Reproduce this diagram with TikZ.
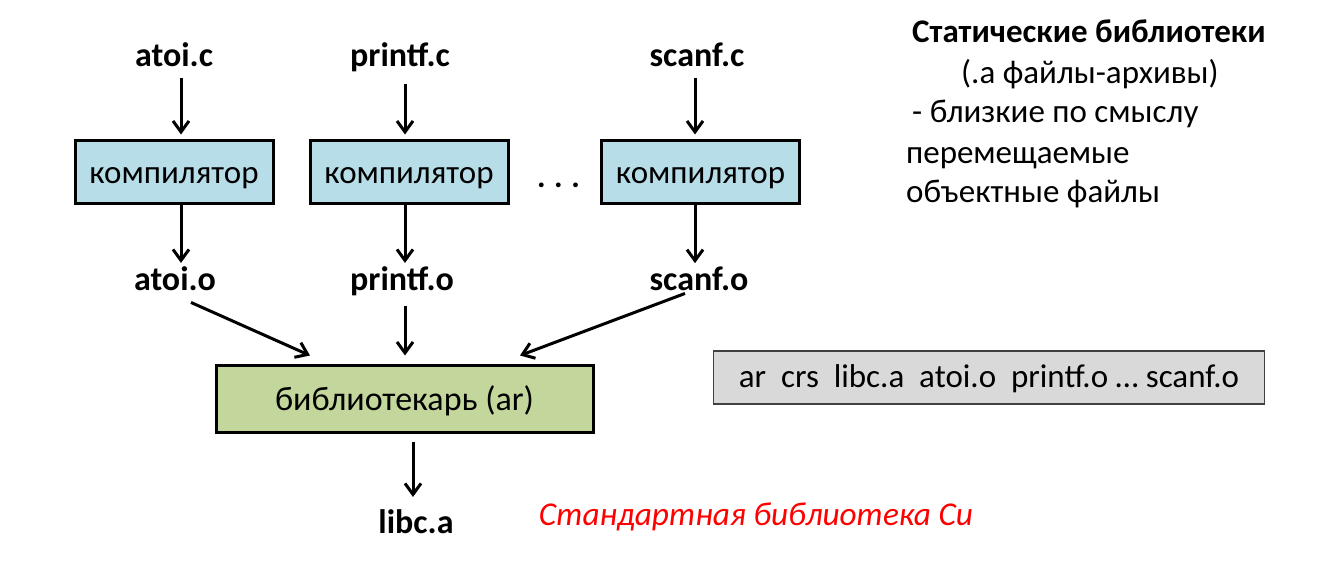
\documentclass[tikz,border=0pt]{standalone}
\usepackage{fontspec}
\setmainfont{Carlito}
\usetikzlibrary{arrows.meta}
\definecolor{boxblue}{HTML}{B7DDE8}
\definecolor{boxgreen}{HTML}{C3D69B}
\definecolor{boxgray}{HTML}{D9D9D9}
\definecolor{boxedge}{HTML}{404040}
\definecolor{txtred}{HTML}{FF0000}
\begin{document}
\begin{tikzpicture}[x=1pt,y=-1pt,
  lbl/.style={font=\fontsize{34}{40}\selectfont\bfseries, inner sep=0pt, anchor=base},
  procbox/.style={draw=black, line width=3pt, inner sep=0pt, text height=24pt, text depth=0pt, font=\fontsize{33}{40}\selectfont},
  comp/.style={procbox, fill=boxblue, minimum width=198pt, minimum height=63pt},
  arr/.style={line width=3pt, -{Straight Barb[length=11pt,width=16pt,line width=3pt]}},
  side/.style={font=\fontsize{33}{39}\selectfont, inner sep=0pt, anchor=base west}
]
\useasboundingbox (0,0) rectangle (1327,573);
% source files
\node[lbl] (atoic) at (174,66) {atoi.c};
\node[lbl] (printfc) at (400,66) {printf.c};
\node[lbl] (scanfc) at (697,66) {scanf.c};
% compilers
\node[comp] (comp1) at (174,171.5) {компилятор};
\node[comp] (comp2) at (409,171.5) {компилятор};
\node[comp] (comp3) at (700.5,171.5) {компилятор};
\node[font=\fontsize{32}{38}\selectfont\bfseries, inner sep=0pt, anchor=base] (dots) at (558.5,187) {.\hspace{8.5pt}.\hspace{8.5pt}.};
% object files
\node[lbl] (atoio) at (175,290) {atoi.o};
\node[lbl] (printfo) at (402,290) {printf.o};
\node[lbl] (scanfo) at (699,290) {scanf.o};
% librarian
\node[procbox, fill=boxgreen, minimum width=377pt, minimum height=67pt, font=\fontsize{34}{40}\selectfont] (lib) at (404.5,398.5) {библиотекарь (ar)};
\node[lbl] (libca) at (416,533) {libc.a};
% arrows: sources -> compilers
\draw[arr, shorten >=4pt] ([xshift=7pt,yshift=-12pt]atoic.south) -- ([xshift=7pt]atoic.south |- comp1.north);
\draw[arr, shorten >=4pt] ([xshift=5pt,yshift=-12pt]printfc.south) -- ([xshift=5pt]printfc.south |- comp2.north);
\draw[arr, shorten >=4pt] ([xshift=-2pt,yshift=-12pt]scanfc.south) -- ([xshift=-2pt]scanfc.south |- comp3.north);
% compilers -> objects
\draw[arr, shorten >=3pt] ([xshift=6pt]atoio.north |- comp1.south) -- ([xshift=6pt]atoio.north);
\draw[arr, shorten >=3pt] ([xshift=3pt]printfo.north |- comp2.south) -- ([xshift=3pt]printfo.north);
\draw[arr, shorten >=3pt] ([xshift=-4pt]scanfo.north |- comp3.south) -- ([xshift=-4pt]scanfo.north);
% objects -> librarian
\draw[arr] ([xshift=16pt,yshift=-12pt]atoio.south) -- ([xshift=-94.5pt,yshift=8pt]lib.north);
\draw[arr] ([xshift=3pt,yshift=-10pt]printfo.south) -- ([xshift=0.5pt,yshift=8pt]lib.north);
\draw[arr] ([xshift=-14pt,yshift=-3pt]scanfo.south) -- ([xshift=115.5pt,yshift=8pt]lib.north);
% librarian -> libc.a
\draw[arr, shorten <=8pt, shorten >=12pt] ([xshift=-3pt]libca.north |- lib.south) -- ([xshift=-3pt]libca.north);
% caption
\node[font=\fontsize{33.3}{40}\selectfont\itshape, text=txtred, inner sep=0pt, anchor=base] (stdlib) at (756,525) {Стандартная библиотека Си};
% command box
\node[draw=boxedge, line width=1.5pt, fill=boxgray, minimum width=551pt, minimum height=53pt, inner sep=0pt, text height=24pt, text depth=5pt, font=\fontsize{33}{39}\selectfont] (cmd) at (989,377.5) {ar\ \ crs\ \ libc.a\ \ atoi.o\ \ printf.o … scanf.o};
% description
\node[side, font=\fontsize{33}{39}\selectfont\bfseries] (t1) at (912,42) {Статические библиотеки};
\node[side] (t2) at (961,83) {(.a файлы-архивы)};
\node[side] (t3) at (912,122) {- близкие по смыслу};
\node[side] (t4) at (906,163) {перемещаемые};
\node[side] (t5) at (906,202) {объектные файлы};
\end{tikzpicture}
\end{document}
